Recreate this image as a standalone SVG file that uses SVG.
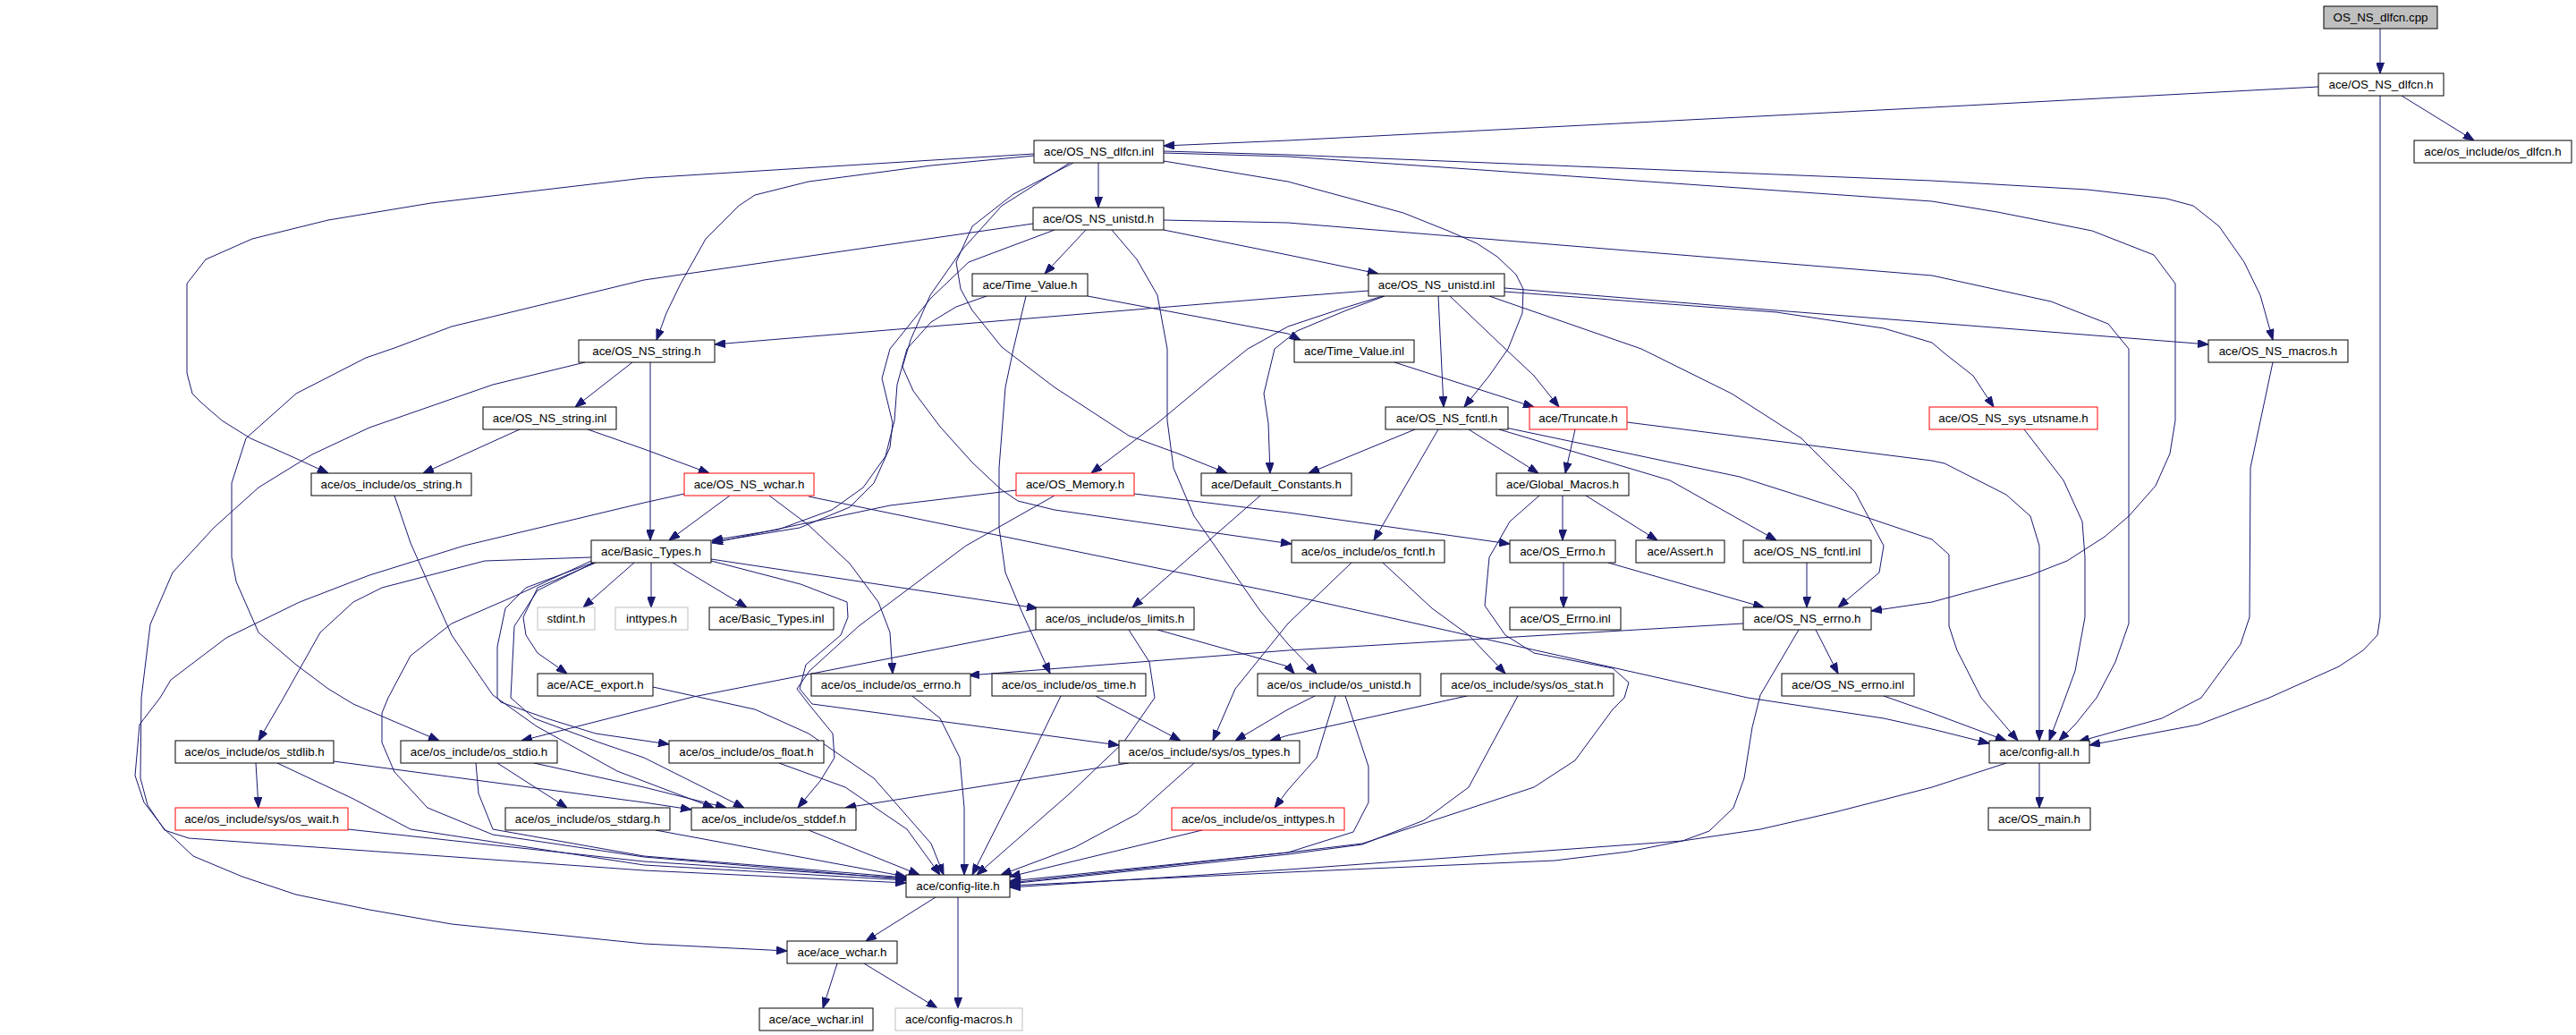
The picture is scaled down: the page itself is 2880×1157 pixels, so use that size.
<svg xmlns="http://www.w3.org/2000/svg" width="2880" height="1157" viewBox="0 0 2880 1157">
<style>
.n rect{fill:#fff;stroke:#000;stroke-width:1}
.n.r rect{stroke:#f00}
.n.g rect{stroke:#bfbfbf}
.n.s rect{fill:#bfbfbf}
.n text{font-family:"Liberation Sans",Arial,Helvetica,sans-serif;font-size:13.33px;text-anchor:middle;fill:#000}
.e path{fill:none;stroke:#191970;stroke-width:1;stroke-linejoin:round;marker-end:url(#a)}
</style>
<defs>
<marker id="a" viewBox="0 0 12 9" refX="12" refY="4.5" markerWidth="12" markerHeight="9" markerUnits="userSpaceOnUse" orient="auto">
<path d="M0,0 L12,4.5 L0,9 Z" fill="#191970" stroke="#191970" stroke-width="1"/>
</marker>
</defs>
<rect x="0" y="0" width="2880" height="1157" fill="#fff"/>
<g id="edges" class="e">
<path d="M2661,32 L2661,82"/>
<path d="M2592,97 L2160,120 L1440,157 L1301,163"/>
<path d="M2685,107 L2766,157"/>
<path d="M2661,107 L2661,690 L2658,710 L2642,727 L2615,745 L2537,780 L2458,810 L2336,833"/>
<path d="M1228,182 L1228,232"/>
<path d="M1301,169 L1440,173 L2160,202 L2334,212 L2422,222 L2452,230 L2481,253 L2509,293 L2527,330 L2541,380"/>
<path d="M1301,171 L1440,175 L2160,225 L2233,237 L2339,258 L2408,285 L2432,317 L2432,470 L2426,507 L2410,543 L2380,577 L2353,600 L2311,627 L2270,643 L2160,673 L2092,683"/>
<path d="M1301,180 L1440,203 L1569,238 L1619,258 L1651,272 L1674,287 L1695,307 L1703,323 L1702,350 L1686,390 L1665,420 L1637,455"/>
<path d="M1156,172 L720,199 L482,227 L367,246 L282,267 L230,290 L209,317 L209,417 L215,440 L225,450 L248,470 L280,490 L321,508 L367,529"/>
<path d="M1156,174 L1041,185 L904,203 L844,218 L826,230 L789,267 L761,317 L745,350 L734,380"/>
<path d="M1200,182 L1133,217 L1087,253 L1069,293 L1074,323 L1087,347 L1120,388 L1179,433 L1262,487 L1317,507 L1372,529"/>
<path d="M1196,182 L1120,230 L1075,280 L1040,330 L1018,380 L1009,410 L1021,437 L1051,477 L1087,517 L1119,547 L1138,560 L1179,570 L1444,608"/>
<path d="M1214,257 L1168,306"/>
<path d="M1301,257 L1440,285 L1541,306"/>
<path d="M1155,250 L720,313 L505,365 L441,389 L409,400 L331,440 L275,490 L259,540 L259,623 L264,650 L289,707 L331,743 L367,770 L395,787 L491,828"/>
<path d="M1179,257 L1083,293 L1041,333 L995,390 L986,423 L998,473 L995,500 L977,540 L950,567 L894,590 L796,606"/>
<path d="M1243,257 L1271,290 L1294,330 L1305,390 L1305,470 L1312,523 L1335,577 L1372,630 L1409,683 L1440,720 L1472,753"/>
<path d="M1301,246 L1440,249 L2160,308 L2293,337 L2357,362 L2380,390 L2380,697 L2365,740 L2344,780 L2320,810 L2302,828"/>
<path d="M1216,331 L1440,373 L1454,380"/>
<path d="M1103,331 L1069,343 L1041,360 L1014,390 L1003,430 L1000,470 L990,510 L965,545 L930,570 L870,592 L796,604"/>
<path d="M1147,331 L1133,390 L1124,433 L1117,523 L1117,590 L1124,640 L1142,683 L1174,753"/>
<path d="M1530,325 L1440,332 L799,385"/>
<path d="M1546,331 L1500,345 L1440,365 L1395,390 L1354,423 L1294,473 L1220,529"/>
<path d="M1548,331 L1505,347 L1450,370 L1425,390 L1413,440 L1418,473 L1420,529"/>
<path d="M1608,331 L1614,455"/>
<path d="M1621,331 L1683,390 L1715,420 L1743,455"/>
<path d="M1682,322 L1986,347 L2469,385"/>
<path d="M1682,326 L1986,349 L2106,367 L2160,383 L2174,395 L2206,420 L2229,455"/>
<path d="M1665,331 L1835,390 L1936,440 L2014,490 L2074,550 L2106,610 L2101,640 L2055,679"/>
<path d="M1559,405 L1715,455"/>
<path d="M727,405 L727,604"/>
<path d="M707,405 L643,455"/>
<path d="M654,405 L551,430 L413,478 L349,508 L289,545 L239,590 L193,640 L168,698 L158,780 L157,870 L165,900 L184,928 L211,937 L720,973 L1013,987"/>
<path d="M581,480 L473,529"/>
<path d="M657,480 L720,502 L793,529"/>
<path d="M441,554 L459,607 L478,650 L505,710 L551,777 L600,812 L690,862 L798,903"/>
<path d="M816,554 L748,604"/>
<path d="M860,554 L904,587 L950,630 L982,673 L995,707 L998,753"/>
<path d="M904,555 L1440,665 L1954,780 L2106,803 L2160,815 L2224,831"/>
<path d="M765,552 L720,562 L519,610 L413,643 L335,673 L253,713 L191,760 L179,780 L156,810 L151,867 L161,897 L184,927 L216,957 L271,980 L331,1000 L413,1017 L505,1033 L720,1055 L880,1063"/>
<path d="M1136,548 L995,565 L796,607"/>
<path d="M1268,552 L1440,573 L1688,608"/>
<path d="M1179,554 L1080,610 L960,700 L905,750 L891,770 L904,787 L931,820 L933,847 L917,873 L892,903"/>
<path d="M1409,554 L1266,679"/>
<path d="M1582,480 L1463,529"/>
<path d="M1642,480 L1720,529"/>
<path d="M1608,480 L1536,604"/>
<path d="M1676,480 L1867,537 L1986,604"/>
<path d="M1683,478 L1945,533 L2083,577 L2160,603 L2179,620 L2179,700 L2188,727 L2215,780 L2256,828"/>
<path d="M1761,480 L1750,529"/>
<path d="M1819,472 L2160,515 L2174,518 L2243,553 L2270,577 L2280,610 L2280,828"/>
<path d="M2263,480 L2307,537 L2328,583 L2331,623 L2331,690 L2320,750 L2309,780 L2291,828"/>
<path d="M2541,405 L2516,523 L2515,690 L2505,720 L2461,780 L2417,803 L2324,829"/>
<path d="M1747,554 L1747,604"/>
<path d="M1773,554 L1853,604"/>
<path d="M1721,554 L1688,583 L1665,623 L1660,677 L1683,710 L1715,730 L1803,747 L1821,763 L1816,780 L1803,793 L1761,850 L1715,880 L1624,910 L1523,943 L1440,953 L1129,985"/>
<path d="M1748,629 L1748,679"/>
<path d="M1798,629 L1972,679"/>
<path d="M2020,629 L2020,679"/>
<path d="M1511,629 L1440,697 L1381,770 L1356,828"/>
<path d="M1546,629 L1601,680 L1642,710 L1683,753"/>
<path d="M1949,697 L1440,727 L1083,755"/>
<path d="M2030,704 L2055,753"/>
<path d="M2011,704 L1968,777 L1959,813 L1950,870 L1938,903 L1911,929 L1881,940 L1821,952 L1738,962 L1440,975 L1129,990"/>
<path d="M2106,778 L2160,797 L2243,828"/>
<path d="M661,623 L542,627 L427,657 L395,673 L358,707 L317,780 L289,828"/>
<path d="M661,627 L574,667 L505,697 L459,733 L434,780 L427,797 L427,830 L441,863 L478,903 L551,933 L720,958 L1013,983"/>
<path d="M663,629 L588,657 L565,680 L556,723 L556,780 L560,785 L611,803 L666,820 L748,832"/>
<path d="M664,629 L601,660 L575,700 L571,780 L597,803 L670,830 L720,847 L832,903"/>
<path d="M666,629 L601,657 L585,690 L588,710 L601,730 L634,753"/>
<path d="M709,629 L652,679"/>
<path d="M728,629 L728,679"/>
<path d="M752,629 L835,679"/>
<path d="M795,625 L1160,680"/>
<path d="M795,627 L895,653 L947,673 L948,690 L940,710 L901,743 L894,770 L908,787 L1251,833"/>
<path d="M1158,704 L775,779 L583,828"/>
<path d="M1294,704 L1440,745 L1447,753"/>
<path d="M1262,704 L1285,740 L1291,780 L1256,830 L1196,887 L1092,978"/>
<path d="M1020,778 L1051,803 L1073,847 L1078,903 L1078,978"/>
<path d="M1225,778 L1320,828"/>
<path d="M1186,778 L1133,887 L1087,978"/>
<path d="M1470,778 L1440,793 L1381,828"/>
<path d="M1493,778 L1472,847 L1440,883 L1425,903"/>
<path d="M1504,778 L1530,857 L1530,897 L1513,930 L1440,953 L1129,987"/>
<path d="M1640,778 L1440,822 L1420,828"/>
<path d="M1697,778 L1642,880 L1592,917 L1523,944 L1440,955 L1129,988"/>
<path d="M286,853 L289,903"/>
<path d="M373,851 L720,897 L773,905"/>
<path d="M310,853 L395,893 L459,927 L720,967 L1013,984"/>
<path d="M389,927 L720,963 L1013,982"/>
<path d="M556,853 L634,903"/>
<path d="M597,853 L720,880 L812,903"/>
<path d="M532,853 L535,887 L551,927 L720,957 L1013,981"/>
<path d="M733,928 L1013,980"/>
<path d="M871,853 L945,880 L1014,927 L1051,978"/>
<path d="M904,928 L1028,978"/>
<path d="M1262,853 L945,903"/>
<path d="M1335,853 L1271,910 L1202,947 L1119,978"/>
<path d="M1344,928 L1129,980"/>
<path d="M730,768 L844,793 L904,820 L977,870 L1041,943 L1055,978"/>
<path d="M2243,853 L2160,880 L2051,908 L1968,927 L1881,940 L1440,972 L1129,992"/>
<path d="M2280,853 L2280,903"/>
<path d="M1046,1003 L968,1052"/>
<path d="M1071,1003 L1071,1127"/>
<path d="M936,1077 L920,1127"/>
<path d="M966,1077 L1048,1127"/>
</g>
<g id="n_cpp" class="n s"><rect x="2598" y="7" width="127" height="25"/><text x="2661.5" y="24">OS_NS_dlfcn.cpp</text></g>
<g id="n_dlfcnh" class="n"><rect x="2592" y="82" width="140" height="25"/><text x="2662" y="99">ace/OS_NS_dlfcn.h</text></g>
<g id="n_osdlfcn" class="n"><rect x="2699" y="157" width="176" height="25"/><text x="2787" y="174">ace/os_include/os_dlfcn.h</text></g>
<g id="n_dlfcninl" class="n"><rect x="1156" y="157" width="145" height="25"/><text x="1228.5" y="174">ace/OS_NS_dlfcn.inl</text></g>
<g id="n_unistdh" class="n"><rect x="1155" y="232" width="146" height="25"/><text x="1228" y="249">ace/OS_NS_unistd.h</text></g>
<g id="n_tvh" class="n"><rect x="1087" y="306" width="129" height="25"/><text x="1151.5" y="323">ace/Time_Value.h</text></g>
<g id="n_unistdinl" class="n"><rect x="1530" y="306" width="152" height="25"/><text x="1606" y="323">ace/OS_NS_unistd.inl</text></g>
<g id="n_tvinl" class="n"><rect x="1447" y="380" width="134" height="25"/><text x="1514" y="397">ace/Time_Value.inl</text></g>
<g id="n_stringh" class="n"><rect x="647" y="380" width="152" height="25"/><text x="723" y="397">ace/OS_NS_string.h</text></g>
<g id="n_macros" class="n"><rect x="2469" y="380" width="156" height="25"/><text x="2547" y="397">ace/OS_NS_macros.h</text></g>
<g id="n_stringinl" class="n"><rect x="540" y="455" width="149" height="25"/><text x="614.5" y="472">ace/OS_NS_string.inl</text></g>
<g id="n_fcntlh" class="n"><rect x="1549" y="455" width="137" height="25"/><text x="1617.5" y="472">ace/OS_NS_fcntl.h</text></g>
<g id="n_truncate" class="n r"><rect x="1710" y="455" width="109" height="25"/><text x="1764.5" y="472">ace/Truncate.h</text></g>
<g id="n_utsname" class="n r"><rect x="2157" y="455" width="188" height="25"/><text x="2251" y="472">ace/OS_NS_sys_utsname.h</text></g>
<g id="n_osstring" class="n"><rect x="348" y="529" width="179" height="25"/><text x="437.5" y="546">ace/os_include/os_string.h</text></g>
<g id="n_wchar" class="n r"><rect x="765" y="529" width="145" height="25"/><text x="837.5" y="546">ace/OS_NS_wchar.h</text></g>
<g id="n_memory" class="n r"><rect x="1136" y="529" width="132" height="25"/><text x="1202" y="546">ace/OS_Memory.h</text></g>
<g id="n_defconst" class="n"><rect x="1343" y="529" width="168" height="25"/><text x="1427" y="546">ace/Default_Constants.h</text></g>
<g id="n_global" class="n"><rect x="1673" y="529" width="148" height="25"/><text x="1747" y="546">ace/Global_Macros.h</text></g>
<g id="n_basic" class="n"><rect x="661" y="604" width="134" height="25"/><text x="728" y="621">ace/Basic_Types.h</text></g>
<g id="n_osfcntl" class="n"><rect x="1444" y="604" width="171" height="25"/><text x="1529.5" y="621">ace/os_include/os_fcntl.h</text></g>
<g id="n_errno" class="n"><rect x="1688" y="604" width="118" height="25"/><text x="1747" y="621">ace/OS_Errno.h</text></g>
<g id="n_assert" class="n"><rect x="1829" y="604" width="99" height="25"/><text x="1878.5" y="621">ace/Assert.h</text></g>
<g id="n_fcntlinl" class="n"><rect x="1949" y="604" width="143" height="25"/><text x="2020.5" y="621">ace/OS_NS_fcntl.inl</text></g>
<g id="n_limits" class="n"><rect x="1158" y="679" width="177" height="25"/><text x="1246.5" y="696">ace/os_include/os_limits.h</text></g>
<g id="n_stdint" class="n g"><rect x="601" y="679" width="64" height="25"/><text x="633" y="696">stdint.h</text></g>
<g id="n_inttypes" class="n g"><rect x="688" y="679" width="81" height="25"/><text x="728.5" y="696">inttypes.h</text></g>
<g id="n_basicinl" class="n"><rect x="793" y="679" width="139" height="25"/><text x="862.5" y="696">ace/Basic_Types.inl</text></g>
<g id="n_errnoinl" class="n"><rect x="1688" y="679" width="124" height="25"/><text x="1750" y="696">ace/OS_Errno.inl</text></g>
<g id="n_nserrno" class="n"><rect x="1949" y="679" width="143" height="25"/><text x="2020.5" y="696">ace/OS_NS_errno.h</text></g>
<g id="n_export" class="n"><rect x="601" y="753" width="129" height="25"/><text x="665.5" y="770">ace/ACE_export.h</text></g>
<g id="n_oserrno" class="n"><rect x="907" y="753" width="178" height="25"/><text x="996" y="770">ace/os_include/os_errno.h</text></g>
<g id="n_ostime" class="n"><rect x="1109" y="753" width="172" height="25"/><text x="1195" y="770">ace/os_include/os_time.h</text></g>
<g id="n_osunistd" class="n"><rect x="1406" y="753" width="182" height="25"/><text x="1497" y="770">ace/os_include/os_unistd.h</text></g>
<g id="n_osstat" class="n"><rect x="1611" y="753" width="193" height="25"/><text x="1707.5" y="770">ace/os_include/sys/os_stat.h</text></g>
<g id="n_nserrnoinl" class="n"><rect x="1992" y="753" width="148" height="25"/><text x="2066" y="770">ace/OS_NS_errno.inl</text></g>
<g id="n_stdlib" class="n"><rect x="196" y="828" width="177" height="25"/><text x="284.5" y="845">ace/os_include/os_stdlib.h</text></g>
<g id="n_stdio" class="n"><rect x="448" y="828" width="175" height="25"/><text x="535.5" y="845">ace/os_include/os_stdio.h</text></g>
<g id="n_float" class="n"><rect x="748" y="828" width="173" height="25"/><text x="834.5" y="845">ace/os_include/os_float.h</text></g>
<g id="n_types" class="n"><rect x="1251" y="828" width="202" height="25"/><text x="1352" y="845">ace/os_include/sys/os_types.h</text></g>
<g id="n_configall" class="n"><rect x="2224" y="828" width="112" height="25"/><text x="2280" y="845">ace/config-all.h</text></g>
<g id="n_wait" class="n r"><rect x="196" y="903" width="193" height="25"/><text x="292.5" y="920">ace/os_include/sys/os_wait.h</text></g>
<g id="n_stdarg" class="n"><rect x="565" y="903" width="184" height="25"/><text x="657" y="920">ace/os_include/os_stdarg.h</text></g>
<g id="n_stddef" class="n"><rect x="773" y="903" width="184" height="25"/><text x="865" y="920">ace/os_include/os_stddef.h</text></g>
<g id="n_inttypesh" class="n r"><rect x="1310" y="903" width="193" height="25"/><text x="1406.5" y="920">ace/os_include/os_inttypes.h</text></g>
<g id="n_main" class="n"><rect x="2223" y="903" width="114" height="25"/><text x="2280" y="920">ace/OS_main.h</text></g>
<g id="n_lite" class="n"><rect x="1013" y="978" width="116" height="25"/><text x="1071" y="995">ace/config-lite.h</text></g>
<g id="n_acewchar" class="n"><rect x="880" y="1052" width="123" height="25"/><text x="941.5" y="1069">ace/ace_wchar.h</text></g>
<g id="n_acewcharinl" class="n"><rect x="849" y="1127" width="127" height="25"/><text x="912.5" y="1144">ace/ace_wchar.inl</text></g>
<g id="n_macrosh" class="n g"><rect x="1001" y="1127" width="142" height="25"/><text x="1072" y="1144">ace/config-macros.h</text></g>
</svg>
